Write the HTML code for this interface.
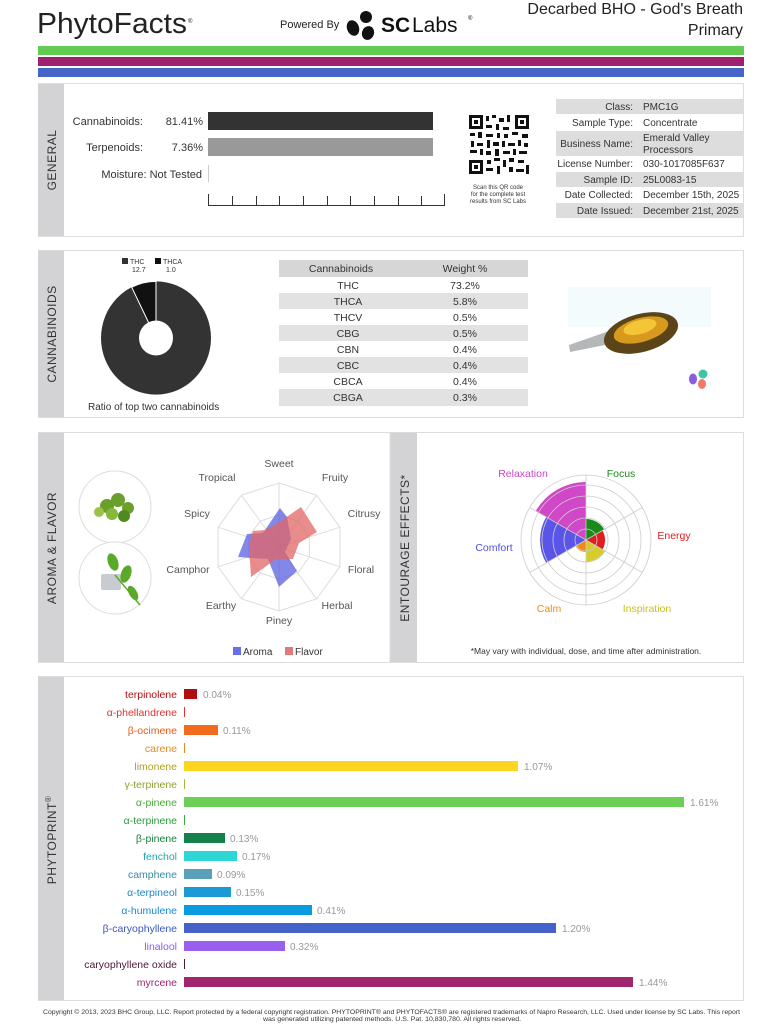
<!DOCTYPE html>
<html><head><meta charset="utf-8"><style>
html,body{margin:0;padding:0;background:#fff;}
svg{display:block;font-family:"Liberation Sans",sans-serif;}
</style></head><body>
<svg width="782" height="1024" viewBox="0 0 782 1024" xmlns="http://www.w3.org/2000/svg">
<!-- Header -->
<text x="37" y="33" font-size="29" fill="#222" textLength="150" lengthAdjust="spacingAndGlyphs">PhytoFacts</text>
<text x="188" y="23" font-size="6" fill="#222">®</text>
<text x="280" y="28" font-size="11" fill="#222">Powered By</text>
<g fill="#111">
<ellipse cx="353" cy="28" rx="6" ry="8" transform="rotate(-20 353 28)"/>
<ellipse cx="366" cy="17" rx="6" ry="6"/>
<ellipse cx="368" cy="33" rx="6" ry="7" transform="rotate(20 368 33)"/>
</g>
<text x="381" y="32" font-size="21" font-weight="bold" fill="#111">SC</text>
<text x="412" y="32" font-size="21" fill="#111">Labs</text>
<text x="468" y="20" font-size="6" fill="#111">®</text>
<text x="743" y="14" font-size="16" fill="#222" text-anchor="end">Decarbed BHO - God's Breath</text>
<text x="743" y="35" font-size="16" fill="#222" text-anchor="end">Primary</text>
<rect x="38" y="46" width="706" height="9" fill="#62cc52"/>
<rect x="38" y="57" width="706" height="9" fill="#9e2170"/>
<rect x="38" y="68" width="706" height="9" fill="#4565c7"/>

<!-- GENERAL -->
<rect x="38.5" y="83.5" width="705" height="153" fill="#fff" stroke="#ddd"/>
<rect x="38" y="84" width="26" height="152" fill="#d3d3d5"/>
<text transform="translate(56 160) rotate(-90)" x="0" y="0" font-size="12" fill="#333" text-anchor="middle" letter-spacing="0.5">GENERAL</text>
<text x="143" y="125" font-size="11" fill="#333" text-anchor="end">Cannabinoids:</text>
<text x="203" y="125" font-size="11" fill="#333" text-anchor="end">81.41%</text>
<rect x="208" y="112" width="225" height="18" fill="#333"/>
<text x="143" y="151" font-size="11" fill="#333" text-anchor="end">Terpenoids:</text>
<text x="203" y="151" font-size="11" fill="#333" text-anchor="end">7.36%</text>
<rect x="208" y="138" width="225" height="18" fill="#999"/>
<text x="202" y="178" font-size="11" fill="#333" text-anchor="end">Moisture:  Not Tested</text>
<line x1="208.5" y1="165" x2="208.5" y2="182" stroke="#ccc"/>
<g stroke="#333" stroke-width="1">
<line x1="208" y1="205.5" x2="445" y2="205.5"/>
<line x1="208.5" y1="194" x2="208.5" y2="205"/><line x1="232.5" y1="196" x2="232.5" y2="205"/><line x1="256.5" y1="196" x2="256.5" y2="205"/><line x1="279.5" y1="196" x2="279.5" y2="205"/><line x1="303.5" y1="196" x2="303.5" y2="205"/><line x1="327.5" y1="196" x2="327.5" y2="205"/><line x1="350.5" y1="196" x2="350.5" y2="205"/><line x1="374.5" y1="196" x2="374.5" y2="205"/><line x1="398.5" y1="196" x2="398.5" y2="205"/><line x1="421.5" y1="196" x2="421.5" y2="205"/><line x1="444.5" y1="194" x2="444.5" y2="205"/>
</g>
<!-- QR -->
<g fill="#111">
<rect x="469" y="115" width="60" height="59" fill="#fff"/>
<rect x="469" y="115" width="14" height="14"/><rect x="472" y="118" width="8" height="8" fill="#fff"/><rect x="474" y="120" width="4" height="4"/>
<rect x="515" y="115" width="14" height="14"/><rect x="518" y="118" width="8" height="8" fill="#fff"/><rect x="520" y="120" width="4" height="4"/>
<rect x="469" y="160" width="14" height="14"/><rect x="472" y="163" width="8" height="8" fill="#fff"/><rect x="474" y="165" width="4" height="4"/>
<rect x="486" y="116" width="3" height="5"/><rect x="492" y="115" width="4" height="3"/><rect x="499" y="118" width="5" height="4"/><rect x="507" y="115" width="3" height="7"/>
<rect x="486" y="125" width="6" height="3"/><rect x="496" y="124" width="3" height="6"/><rect x="503" y="127" width="6" height="3"/>
<rect x="470" y="133" width="5" height="3"/><rect x="478" y="132" width="4" height="6"/><rect x="486" y="134" width="7" height="3"/><rect x="497" y="133" width="3" height="5"/><rect x="504" y="134" width="4" height="4"/><rect x="512" y="132" width="6" height="3"/><rect x="522" y="134" width="6" height="4"/>
<rect x="471" y="141" width="3" height="6"/><rect x="477" y="143" width="6" height="3"/><rect x="487" y="140" width="3" height="8"/><rect x="493" y="142" width="6" height="4"/><rect x="502" y="141" width="3" height="6"/><rect x="508" y="143" width="7" height="3"/><rect x="518" y="140" width="3" height="6"/><rect x="524" y="143" width="4" height="4"/>
<rect x="470" y="150" width="7" height="3"/><rect x="480" y="149" width="3" height="6"/><rect x="486" y="151" width="5" height="4"/><rect x="495" y="149" width="4" height="7"/><rect x="503" y="151" width="7" height="3"/><rect x="513" y="149" width="3" height="6"/><rect x="519" y="151" width="8" height="3"/>
<rect x="487" y="160" width="4" height="4"/><rect x="494" y="158" width="6" height="3"/><rect x="503" y="160" width="3" height="7"/><rect x="509" y="158" width="5" height="4"/><rect x="518" y="160" width="6" height="3"/>
<rect x="486" y="168" width="7" height="3"/><rect x="497" y="166" width="3" height="8"/><rect x="509" y="167" width="4" height="5"/><rect x="516" y="169" width="8" height="3"/><rect x="526" y="165" width="3" height="9"/>
</g>
<text x="498" y="189" font-size="6" fill="#333" text-anchor="middle">Scan this QR code</text>
<text x="498" y="196" font-size="6" fill="#333" text-anchor="middle">for the complete test</text>
<text x="498" y="203" font-size="6" fill="#333" text-anchor="middle">results from SC Labs</text>
<!-- Info table -->
<g font-size="10" fill="#333">
<rect x="556" y="99" width="187" height="15" fill="#ddd"/>
<rect x="556" y="131" width="187" height="25" fill="#ddd"/>
<rect x="556" y="172" width="187" height="15" fill="#ddd"/>
<rect x="556" y="203" width="187" height="15" fill="#ddd"/>
<text x="633" y="110" text-anchor="end">Class:</text><text x="643" y="110">PMC1G</text>
<text x="633" y="126" text-anchor="end">Sample Type:</text><text x="643" y="126">Concentrate</text>
<text x="633" y="147" text-anchor="end">Business Name:</text><text x="643" y="141">Emerald Valley</text><text x="643" y="153">Processors</text>
<text x="633" y="167" text-anchor="end">License Number:</text><text x="643" y="167">030-1017085F637</text>
<text x="633" y="183" text-anchor="end">Sample ID:</text><text x="643" y="183">25L0083-15</text>
<text x="633" y="198" text-anchor="end">Date Collected:</text><text x="643" y="198">December 15th, 2025</text>
<text x="633" y="214" text-anchor="end">Date Issued:</text><text x="643" y="214">December 21st, 2025</text>
</g>

<!-- CANNABINOIDS -->
<rect x="38.5" y="250.5" width="705" height="167" fill="#fff" stroke="#ddd"/>
<rect x="38" y="251" width="26" height="166" fill="#d3d3d5"/>
<text transform="translate(56 334) rotate(-90)" font-size="12" fill="#333" text-anchor="middle" letter-spacing="0.5">CANNABINOIDS</text>
<rect x="122" y="258" width="6" height="6" fill="#333"/><text x="130" y="264" font-size="7" fill="#333">THC</text><text x="132" y="272" font-size="7" fill="#333">12.7</text>
<rect x="155" y="258" width="6" height="6" fill="#111"/><text x="163" y="264" font-size="7" fill="#333">THCA</text><text x="166" y="272" font-size="7" fill="#333">1.0</text>
<g transform="translate(156 338) scale(1 1.03)">
<circle r="55" fill="#333"/>
<path d="M0 0 L0 -55 A55 55 0 0 0 -24.3 -49.3 Z" fill="#111" stroke="#fff" stroke-width="1"/>
<circle r="17" fill="#fff"/>
</g>
<text x="88" y="410" font-size="10" fill="#333">Ratio of top two cannabinoids</text>
<g font-size="10.5" fill="#333" text-anchor="middle">
<rect x="279" y="260" width="249" height="17" fill="#d6d6d6"/>
<text x="341" y="272">Cannabinoids</text><text x="465" y="272">Weight %</text>
<rect x="279" y="293" width="249" height="16" fill="#e2e2e2"/>
<rect x="279" y="325" width="249" height="16" fill="#e2e2e2"/>
<rect x="279" y="357" width="249" height="16" fill="#e2e2e2"/>
<rect x="279" y="389" width="249" height="17" fill="#e2e2e2"/>
<text x="348" y="289">THC</text><text x="465" y="289">73.2%</text>
<text x="348" y="305">THCA</text><text x="465" y="305">5.8%</text>
<text x="348" y="321">THCV</text><text x="465" y="321">0.5%</text>
<text x="348" y="337">CBG</text><text x="465" y="337">0.5%</text>
<text x="348" y="353">CBN</text><text x="465" y="353">0.4%</text>
<text x="348" y="369">CBC</text><text x="465" y="369">0.4%</text>
<text x="348" y="385">CBCA</text><text x="465" y="385">0.4%</text>
<text x="348" y="401">CBGA</text><text x="465" y="401">0.3%</text>
</g>
<!-- dab image -->
<rect x="568" y="287" width="143" height="40" fill="#f4fbfd"/>
<path d="M569 345 L612 330 L615 343 L570 352 Z" fill="#b5b8b8"/>
<ellipse cx="641" cy="333" rx="38" ry="19" transform="rotate(-15 641 333)" fill="#5a4418"/>
<ellipse cx="641" cy="330" rx="28" ry="12" transform="rotate(-15 641 330)" fill="#d89a1c"/>
<ellipse cx="640" cy="327" rx="17" ry="7" transform="rotate(-15 640 327)" fill="#f4c536"/>
<circle cx="703" cy="374" r="4.5" fill="#3fc4a6"/>
<ellipse cx="693" cy="379" rx="4" ry="5.5" fill="#8a5ee0"/>
<ellipse cx="702" cy="384" rx="4" ry="5" fill="#f07a6a"/>

<!-- AROMA & FLAVOR -->
<rect x="38.5" y="432.5" width="705" height="230" fill="#fff" stroke="#ddd"/>
<rect x="38" y="433" width="26" height="229" fill="#d3d3d5"/>
<text transform="translate(56 548) rotate(-90)" font-size="12" fill="#333" text-anchor="middle" letter-spacing="0.5">AROMA &amp; FLAVOR</text>
<circle cx="115" cy="507" r="36" fill="#fff" stroke="#ddd"/>
<circle cx="115" cy="578" r="36" fill="#fff" stroke="#ddd"/>
<g fill="#6aa02a"><circle cx="107" cy="506" r="7"/><circle cx="118" cy="500" r="7"/><circle cx="128" cy="508" r="6"/><circle cx="112" cy="514" r="6" fill="#86b83c"/><circle cx="124" cy="516" r="6" fill="#4f8a1e"/><circle cx="99" cy="512" r="5" fill="#9cc24a"/></g>
<rect x="101" y="574" width="20" height="16" fill="#c8ccd0" rx="2"/>
<g fill="#5aaa2a"><ellipse cx="113" cy="562" rx="5" ry="9" transform="rotate(-20 113 562)"/><ellipse cx="126" cy="574" rx="5" ry="9" transform="rotate(20 126 574)"/><ellipse cx="133" cy="593" rx="4" ry="8" transform="rotate(-30 133 593)"/></g>
<line x1="115" y1="575" x2="140" y2="605" stroke="#5aaa2a" stroke-width="1.5"/>
<!-- radar -->
<g transform="translate(279 547)">
<g fill="none" stroke="#ddd" stroke-width="1">
<polygon points="0,-64 37.6,-51.8 60.9,-19.8 60.9,19.8 37.6,51.8 0,64 -37.6,51.8 -60.9,19.8 -60.9,-19.8 -37.6,-51.8"/>
<polygon points="0,-32 18.8,-25.9 30.4,-9.9 30.4,9.9 18.8,25.9 0,32 -18.8,25.9 -30.4,9.9 -30.4,-9.9 -18.8,-25.9"/>
<line x1="0" y1="0" x2="0" y2="-64"/><line x1="0" y1="0" x2="37.6" y2="-51.8"/><line x1="0" y1="0" x2="60.9" y2="-19.8"/><line x1="0" y1="0" x2="60.9" y2="19.8"/><line x1="0" y1="0" x2="37.6" y2="51.8"/><line x1="0" y1="0" x2="0" y2="64"/><line x1="0" y1="0" x2="-37.6" y2="51.8"/><line x1="0" y1="0" x2="-60.9" y2="19.8"/><line x1="0" y1="0" x2="-60.9" y2="-19.8"/><line x1="0" y1="0" x2="-37.6" y2="-51.8"/>
</g>
<polygon points="1,-39 8,-30 12,-8 6,5 18,24 0,40 -11,12 -41,10 -32,-13 -16,-14" fill="#5a5fe0" fill-opacity="0.75"/>
<polygon points="-1,-24 22,-40 38,-15 20,-4 14,12 -3,12 -28,30 -30,-2 -26,-16 -14,-17" fill="#e06666" fill-opacity="0.75"/>
</g>
<g font-size="10.5" fill="#555" text-anchor="middle">
<text x="279" y="467">Sweet</text>
<text x="335" y="481">Fruity</text>
<text x="364" y="517">Citrusy</text>
<text x="361" y="573">Floral</text>
<text x="337" y="609">Herbal</text>
<text x="279" y="624">Piney</text>
<text x="221" y="609">Earthy</text>
<text x="188" y="573">Camphor</text>
<text x="197" y="517">Spicy</text>
<text x="217" y="481">Tropical</text>
</g>
<rect x="233" y="647" width="8" height="8" fill="#6a6ee8"/><text x="243" y="655" font-size="10" fill="#333">Aroma</text>
<rect x="285" y="647" width="8" height="8" fill="#e07a7a"/><text x="295" y="655" font-size="10" fill="#333">Flavor</text>

<!-- ENTOURAGE -->
<rect x="390" y="433" width="27" height="229" fill="#d3d3d5"/>
<line x1="390" y1="433" x2="390" y2="662" stroke="#ddd"/>
<text transform="translate(409 548) rotate(-90)" font-size="12" fill="#333" text-anchor="middle" letter-spacing="0.5">ENTOURAGE EFFECTS*</text>
<g transform="translate(586 540)">
<path d="M0 0 L0 -21 A21 21 0 0 1 18.2 -10.5 Z" fill="#1a8a1a"/>
<path d="M0 0 L16.5 -9.5 A19 19 0 0 1 16.5 9.5 Z" fill="#e02020"/>
<path d="M0 0 L19 11 A22 22 0 0 1 0 22 Z" fill="#d6cc2a"/>
<path d="M0 0 L0 12 A12 12 0 0 1 -10.4 -6 Z" fill="#f08a1a"/>
<path d="M0 0 L-39.8 23 A46 46 0 0 1 -39.8 -23 Z" fill="#5a55e8"/>
<path d="M0 0 L-50.2 -29 A58 58 0 0 1 0 -58 Z" fill="#d048c8"/>
<g fill="none" stroke="#ccc" stroke-width="0.8">
<circle r="11"/><circle r="22"/><circle r="33"/><circle r="44"/><circle r="55"/><circle r="65"/>
<line x1="0" y1="-65" x2="0" y2="65"/><line x1="-56.3" y1="-32.5" x2="56.3" y2="32.5"/><line x1="-56.3" y1="32.5" x2="56.3" y2="-32.5"/>
</g>
</g>
<g font-size="10.5" text-anchor="middle">
<text x="523" y="477" fill="#c848c0">Relaxation</text>
<text x="621" y="477" fill="#1a8a1a">Focus</text>
<text x="674" y="539" fill="#e02020">Energy</text>
<text x="494" y="551" fill="#5050e0">Comfort</text>
<text x="549" y="612" fill="#f08a1a">Calm</text>
<text x="647" y="612" fill="#c8c020">Inspiration</text>
</g>
<text x="586" y="654" font-size="8.5" fill="#333" text-anchor="middle">*May vary with individual, dose, and time after administration.</text>

<!-- PHYTOPRINT -->
<rect x="38.5" y="676.5" width="705" height="324" fill="#fff" stroke="#ddd"/>
<rect x="38" y="677" width="26" height="323" fill="#d3d3d5"/>
<text transform="translate(56 840) rotate(-90)" font-size="12" fill="#333" text-anchor="middle" letter-spacing="0.5">PHYTOPRINT<tspan font-size="8" dy="-5">®</tspan></text>
<g font-size="10.5" text-anchor="end">
<text x="177" y="698" fill="#b01010">terpinolene</text>
<text x="177" y="716" fill="#e03030">α-phellandrene</text>
<text x="177" y="734" fill="#e85a1a">β-ocimene</text>
<text x="177" y="752" fill="#d88a2a">carene</text>
<text x="177" y="770" fill="#b0a028">limonene</text>
<text x="177" y="788" fill="#8aa030">γ-terpinene</text>
<text x="177" y="806" fill="#4aaa3a">α-pinene</text>
<text x="177" y="824" fill="#2a9a3a">α-terpinene</text>
<text x="177" y="842" fill="#1a7f3c">β-pinene</text>
<text x="177" y="860" fill="#20a8a8">fenchol</text>
<text x="177" y="878" fill="#3a8aa0">camphene</text>
<text x="177" y="896" fill="#1a88c8">α-terpineol</text>
<text x="177" y="914" fill="#1a88d0">α-humulene</text>
<text x="177" y="932" fill="#3a58c0">β-caryophyllene</text>
<text x="177" y="950" fill="#8a5ae8">linalool</text>
<text x="177" y="968" fill="#4a1838">caryophyllene oxide</text>
<text x="177" y="986" fill="#a0246e">myrcene</text>
</g>
<g>
<rect x="184" y="689" width="13" height="10" fill="#b00f0f"/>
<rect x="184" y="707" width="1" height="10" fill="#e03030"/>
<rect x="184" y="725" width="34" height="10" fill="#f26b1d"/>
<rect x="184" y="743" width="1" height="10" fill="#e08a2a"/>
<rect x="184" y="761" width="334" height="10" fill="#fbd520"/>
<rect x="184" y="779" width="1" height="10" fill="#a6b83a"/>
<rect x="184" y="797" width="500" height="10" fill="#6ccf55"/>
<rect x="184" y="815" width="1" height="10" fill="#3aa83a"/>
<rect x="184" y="833" width="41" height="10" fill="#16804a"/>
<rect x="184" y="851" width="53" height="10" fill="#2ed6d6"/>
<rect x="184" y="869" width="28" height="10" fill="#5aa0b8"/>
<rect x="184" y="887" width="47" height="10" fill="#1c9ad6"/>
<rect x="184" y="905" width="128" height="10" fill="#0a9ae0"/>
<rect x="184" y="923" width="372" height="10" fill="#4462c8"/>
<rect x="184" y="941" width="101" height="10" fill="#9b5ff0"/>
<rect x="184" y="959" width="1" height="10" fill="#4a1838"/>
<rect x="184" y="977" width="449" height="10" fill="#a0246e"/>
</g>
<g font-size="10" fill="#999">
<text x="203" y="698">0.04%</text>
<text x="223" y="734">0.11%</text>
<text x="524" y="770">1.07%</text>
<text x="690" y="806">1.61%</text>
<text x="230" y="842">0.13%</text>
<text x="242" y="860">0.17%</text>
<text x="217" y="878">0.09%</text>
<text x="236" y="896">0.15%</text>
<text x="317" y="914">0.41%</text>
<text x="562" y="932">1.20%</text>
<text x="290" y="950">0.32%</text>
<text x="639" y="986">1.44%</text>
</g>
<text x="43" y="1014" font-size="6" fill="#333" textLength="697" lengthAdjust="spacingAndGlyphs">Copyright © 2013, 2023 BHC Group, LLC. Report protected by a federal copyright registration. PHYTOPRINT® and PHYTOFACTS® are registered trademarks of Napro Research, LLC. Used under license by SC Labs. This report</text>
<text x="263" y="1021" font-size="6" fill="#333" textLength="258" lengthAdjust="spacingAndGlyphs">was generated utilizing patented methods. U.S. Pat. 10,830,780. All rights reserved.</text>
</svg>
</body></html>
